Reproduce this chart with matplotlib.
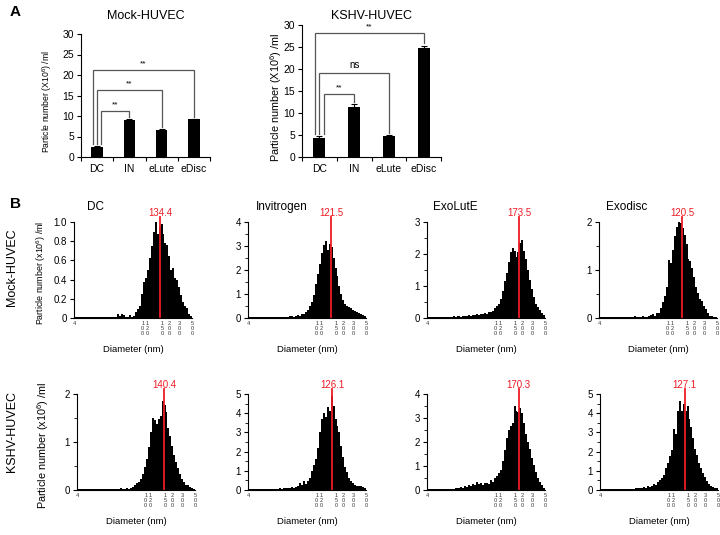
import numpy as np
import matplotlib
matplotlib.use('Agg')
import matplotlib.pyplot as plt
from matplotlib.ticker import MultipleLocator, FuncFormatter, NullLocator
from matplotlib.transforms import ScaledTranslation

plt.rcParams['font.family'] = ['Liberation Sans', 'DejaVu Sans']
plt.rcParams['mathtext.fontset'] = 'custom'
plt.rcParams['mathtext.rm'] = 'Liberation Sans'
plt.rcParams['mathtext.default'] = 'regular'
plt.rcParams['axes.linewidth'] = 0.8

# ---- panel A: particle counts ----
groups = ['DC', 'IN', 'eLute', 'eDisc']
mock_mean = [2.5, 9.0, 6.5, 9.2]
mock_err = [0.1, 0.3, 0.3, 0.1]
kshv_mean = [4.3, 11.3, 4.8, 24.8]
kshv_err = [0.4, 0.7, 0.15, 0.5]
# DC vs IN, DC vs eLute, DC vs eDisc
mock_sig = ['**', '**', '**']
kshv_sig = ['**', 'ns', '**']
mock_bracket_y = [11.2, 16.3, 21.2]
kshv_bracket_y = [14.3, 19.1, 28.2]

# ---- panel B: size distributions (60 log-spaced bins, 4-500 nm) ----
methods = ['DC', 'Invitrogen', 'ExoLutE', 'Exodisc']
mock_modes = [134.4, 121.5, 173.5, 120.5]
kshv_modes = [140.4, 126.1, 170.3, 127.1]
mock_ymax = [1.0, 4, 3, 2]
kshv_ymax = [2, 5, 4, 5]
size_ticks = [4, 100, 120, 150, 200, 300, 500]
size_labels = ['4', '1\n0\n0', '1\n2\n0', '1\n5\n0', '2\n0\n0', '3\n0\n0', '5\n0\n0']

mock_dc = [0.01, 0.01, 0.01, 0.01, 0.01, 0.01, 0.01, 0.01, 0.01, 0.01,
           0.01, 0.01, 0.01, 0.01, 0.01, 0.01, 0.01, 0.01, 0.01, 0.01,
           0.01, 0.01, 0.04, 0.02, 0.04, 0.03, 0.01, 0.01, 0.03, 0.01,
           0.02, 0.06, 0.09, 0.12, 0.25, 0.38, 0.42, 0.50, 0.62, 0.75,
           0.90, 1.00, 0.88, 0.95, 0.98, 0.88, 0.78, 0.76, 0.65, 0.50,
           0.52, 0.42, 0.40, 0.32, 0.24, 0.17, 0.12, 0.10, 0.04, 0.02]
mock_in = [0.04, 0.04, 0.04, 0.04, 0.04, 0.04, 0.04, 0.04, 0.04, 0.04,
           0.04, 0.04, 0.04, 0.04, 0.04, 0.05, 0.04, 0.06, 0.05, 0.06,
           0.05, 0.08, 0.10, 0.05, 0.10, 0.12, 0.10, 0.15, 0.18, 0.25,
           0.35, 0.50, 0.65, 0.95, 1.40, 1.85, 2.25, 2.70, 3.05, 3.20,
           2.85, 3.10, 2.95, 2.50, 2.10, 1.75, 1.35, 1.00, 0.75, 0.60,
           0.50, 0.45, 0.42, 0.35, 0.30, 0.25, 0.22, 0.18, 0.14, 0.10]
mock_el = [0.03, 0.03, 0.03, 0.03, 0.03, 0.03, 0.03, 0.03, 0.03, 0.03,
           0.03, 0.04, 0.03, 0.05, 0.04, 0.06, 0.05, 0.04, 0.06, 0.05,
           0.06, 0.08, 0.06, 0.10, 0.10, 0.12, 0.10, 0.13, 0.12, 0.15,
           0.12, 0.18, 0.20, 0.22, 0.30, 0.38, 0.45, 0.60, 0.85, 1.15,
           1.42, 1.75, 2.05, 2.18, 2.10, 1.90, 2.05, 2.35, 2.45, 2.10,
           1.85, 1.50, 1.20, 0.90, 0.65, 0.45, 0.33, 0.25, 0.15, 0.10]
mock_ed = [0.02, 0.02, 0.02, 0.02, 0.02, 0.02, 0.02, 0.02, 0.02, 0.02,
           0.02, 0.02, 0.02, 0.02, 0.02, 0.02, 0.02, 0.02, 0.04, 0.02,
           0.02, 0.02, 0.04, 0.02, 0.03, 0.05, 0.06, 0.08, 0.05, 0.10,
           0.10, 0.20, 0.33, 0.45, 0.65, 1.20, 1.15, 1.42, 1.70, 1.90,
           2.00, 1.97, 1.88, 1.72, 1.55, 1.22, 1.18, 1.05, 0.85, 0.65,
           0.53, 0.40, 0.35, 0.26, 0.18, 0.10, 0.05, 0.04, 0.03, 0.02]
kshv_dc = [0.02, 0.02, 0.02, 0.02, 0.02, 0.02, 0.02, 0.02, 0.02, 0.02,
           0.02, 0.02, 0.02, 0.02, 0.02, 0.02, 0.02, 0.02, 0.03, 0.02,
           0.03, 0.02, 0.04, 0.03, 0.02, 0.04, 0.03, 0.04, 0.06, 0.10,
           0.14, 0.16, 0.22, 0.33, 0.48, 0.65, 0.90, 1.20, 1.50, 1.46,
           1.38, 1.48, 1.55, 1.85, 1.78, 1.63, 1.30, 1.12, 0.92, 0.72,
           0.58, 0.45, 0.33, 0.23, 0.16, 0.11, 0.10, 0.07, 0.05, 0.03]
kshv_in = [0.05, 0.05, 0.05, 0.05, 0.05, 0.05, 0.05, 0.05, 0.05, 0.05,
           0.05, 0.05, 0.05, 0.05, 0.05, 0.05, 0.08, 0.06, 0.10, 0.08,
           0.12, 0.10, 0.15, 0.12, 0.18, 0.20, 0.35, 0.25, 0.45, 0.30,
           0.45, 0.65, 1.00, 1.30, 1.60, 2.20, 3.00, 3.70, 4.00, 3.80,
           4.30, 4.10, 4.90, 4.40, 3.70, 3.35, 3.00, 2.30, 1.70, 1.20,
           0.95, 0.60, 0.47, 0.36, 0.28, 0.22, 0.20, 0.20, 0.15, 0.12]
kshv_el = [0.04, 0.04, 0.04, 0.04, 0.04, 0.04, 0.04, 0.04, 0.04, 0.04,
           0.05, 0.04, 0.06, 0.05, 0.08, 0.07, 0.10, 0.12, 0.10, 0.15,
           0.12, 0.20, 0.15, 0.25, 0.22, 0.35, 0.25, 0.30, 0.22, 0.30,
           0.28, 0.25, 0.40, 0.35, 0.50, 0.58, 0.70, 0.85, 1.20, 1.65,
           2.15, 2.50, 2.65, 2.80, 3.50, 3.30, 3.25, 3.40, 3.20, 2.80,
           2.35, 2.00, 1.70, 1.35, 1.05, 0.75, 0.50, 0.33, 0.20, 0.10]
kshv_ed = [0.05, 0.05, 0.05, 0.05, 0.05, 0.05, 0.05, 0.05, 0.05, 0.05,
           0.05, 0.05, 0.06, 0.05, 0.05, 0.05, 0.06, 0.05, 0.10, 0.08,
           0.12, 0.10, 0.15, 0.12, 0.20, 0.15, 0.20, 0.30, 0.28, 0.40,
           0.50, 0.65, 0.80, 1.15, 1.40, 1.75, 2.10, 3.20, 2.90, 4.10,
           4.65, 4.10, 4.50, 4.10, 4.40, 3.70, 3.30, 2.70, 2.15, 1.80,
           1.40, 1.15, 0.90, 0.70, 0.45, 0.30, 0.20, 0.15, 0.12, 0.08]

mock_hists = [mock_dc, mock_in, mock_el, mock_ed]
kshv_hists = [kshv_dc, kshv_in, kshv_el, kshv_ed]
edges = np.geomspace(4, 500, len(mock_dc) + 1)

W, H = 720, 535
fig = plt.figure(figsize=(7.2, 5.35), dpi=100)


def px_axes(left, top, right, bottom):
    return fig.add_axes([left / W, 1 - bottom / H, (right - left) / W, (bottom - top) / H])


def draw_counts(ax, means, errs, sig, bracket_y, title, ylab_size, ylab_x):
    x = np.arange(len(groups))
    ax.bar(x, means, width=0.35, color='black',
           yerr=[np.zeros(len(errs)), errs],
           error_kw=dict(ecolor='black', elinewidth=0.8, capsize=2, capthick=0.8))
    ax.set_xlim(-0.5, 3.5)
    ax.set_ylim(0, 30)
    ax.yaxis.set_major_locator(MultipleLocator(5))
    ax.set_xticks(np.arange(5) - 0.5)
    ax.set_xticklabels([])
    ax.set_xticks(x, minor=True)
    ax.set_xticklabels(groups, minor=True)
    ax.tick_params(axis='x', which='minor', length=0, pad=5, labelsize=7.5)
    ax.tick_params(axis='x', which='major', length=3, width=0.8)
    ax.tick_params(axis='y', length=3, width=0.8, labelsize=7.5, pad=2)
    for s in ['top', 'right']:
        ax.spines[s].set_visible(False)
    ax.set_ylabel('Particle number (X10$^{6}$) /ml', fontsize=ylab_size)
    ax.yaxis.set_label_coords(ylab_x, 0.45)
    pos = ax.get_position()
    fig.text(pos.x0 + pos.width / 2, 1 - 16 / H, title, ha='center', va='center', fontsize=9)

    left_off = [0.12, 0.0, -0.12]
    for k, (target, y, s) in enumerate(zip([1, 2, 3], bracket_y, sig)):
        xl = x[0] + left_off[k]
        xr = x[target]
        yl = means[0] + errs[0] + 0.6
        yr = means[target] + errs[target] + 0.5
        ax.plot([xl, xl, xr, xr], [yl, y, y, yr], color='#555555', lw=0.9,
                clip_on=False, solid_joinstyle='miter')
        ax.text((xl + xr) / 2, y + 0.6, s, ha='center', va='bottom',
                fontsize=6 if s == '**' else 7)


def draw_hist(ax, counts, mode, ymax, title=None, ylab_size=None):
    ax.stairs(counts, edges, fill=True, color='black', lw=0)
    ax.set_xscale('log')
    ax.set_xlim(4, 500)
    ax.set_ylim(0, ymax)
    ax.xaxis.set_minor_locator(NullLocator())
    ax.set_xticks(size_ticks)
    ax.set_xticklabels(size_labels)
    ax.tick_params(axis='x', length=0, pad=2, labelsize=4, labelcolor='#333333')
    for lab in ax.get_xticklabels():
        lab.set_linespacing(1.0)
        lab.set_va('top')
    shift = ScaledTranslation(-10 / 100, 0, fig.dpi_scale_trans)
    for t in ax.xaxis.get_major_ticks()[1:3]:
        t.label1.set_transform(t.label1.get_transform() + shift)
    if ymax <= 1:
        ax.yaxis.set_major_locator(MultipleLocator(0.2))
        ax.yaxis.set_major_formatter(FuncFormatter(lambda v, p: '0' if v == 0 else f'{v:.1f}'))
    else:
        ax.yaxis.set_major_locator(MultipleLocator(1))
        ax.yaxis.set_minor_locator(MultipleLocator(0.5))
    ax.tick_params(axis='y', which='major', length=3, width=0.8, labelsize=7, pad=2)
    ax.tick_params(axis='y', which='minor', length=2, width=0.6)
    for s in ['top', 'right']:
        ax.spines[s].set_visible(False)
    ax.set_xlabel('Diameter (nm)', fontsize=6.8, labelpad=7)
    tr = ax.get_xaxis_transform()
    ax.plot([mode, mode], [0, 1.05], transform=tr, color='#ee1c25', lw=1.3, clip_on=False)
    ax.text(mode, 1.045, f'{mode:.1f}', transform=tr, color='#ee1c25',
            ha='center', va='bottom', fontsize=7)
    if title is not None:
        ax.text(title[1], 1.16, title[0], transform=ax.transAxes,
                ha='center', va='center', fontsize=8.5)
    if ylab_size is not None:
        ax.set_ylabel('Particle number (x10$^{6}$) /ml', fontsize=ylab_size)
        ax.yaxis.set_label_coords(-0.22, 0.47)


# panel A
ax_m = px_axes(81, 34, 210, 157)
draw_counts(ax_m, mock_mean, mock_err, mock_sig, mock_bracket_y, 'Mock-HUVEC', 6.2, -0.21)
ax_k = px_axes(302, 25, 441, 157)
draw_counts(ax_k, kshv_mean, kshv_err, kshv_sig, kshv_bracket_y, 'KSHV-HUVEC', 7.8, -0.13)

# panel B
row1_left = [74, 248, 427, 599]
row2_left = [77, 248, 427, 600]
title_x = [0.18, 0.29, 0.24, 0.23]
for i in range(4):
    ax = px_axes(row1_left[i], 222, row1_left[i] + 118, 318)
    draw_hist(ax, mock_hists[i], mock_modes[i], mock_ymax[i],
              title=(methods[i], title_x[i]), ylab_size=6.4 if i == 0 else None)
    ax = px_axes(row2_left[i], 394, row2_left[i] + 118, 490)
    draw_hist(ax, kshv_hists[i], kshv_modes[i], kshv_ymax[i],
              ylab_size=7.8 if i == 0 else None)

fig.text(10 / W, 1 - 12 / H, 'A', fontsize=11, fontweight='bold', ha='left', va='center')
fig.text(10 / W, 1 - 204 / H, 'B', fontsize=11, fontweight='bold', ha='left', va='center')
fig.text(12 / W, 1 - 267 / H, 'Mock-HUVEC', rotation=90, ha='center', va='center', fontsize=9)
fig.text(12 / W, 1 - 432 / H, 'KSHV-HUVEC', rotation=90, ha='center', va='center', fontsize=9)

fig.savefig('out.png', dpi=100)
